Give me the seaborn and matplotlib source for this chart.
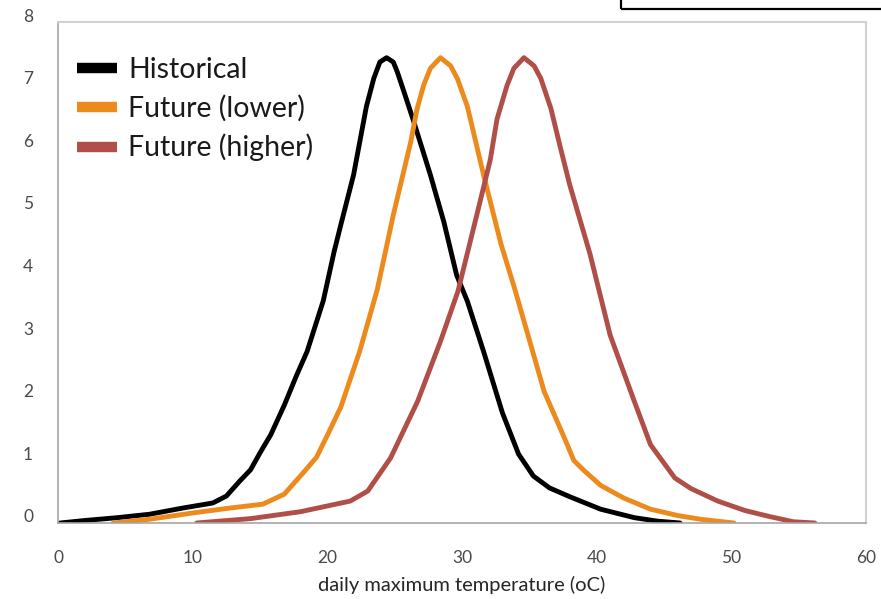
import matplotlib
matplotlib.use("Agg")
import matplotlib.pyplot as plt
import matplotlib.transforms as mtransforms
from matplotlib.lines import Line2D
from matplotlib.patches import Rectangle
import pandas as pd
import seaborn as sns

# Daily maximum temperature distributions (oC vs. frequency)
hist_x = [0.15, 2.0, 4.4, 6.8, 9.3, 11.5, 12.5, 13.5, 14.3, 15.0, 15.8, 16.8, 17.7,
          18.5, 19.7, 20.5, 21.0, 21.95, 22.9, 23.45, 23.9, 24.4, 24.9, 25.2, 25.7,
          26.4, 27.65, 28.65, 29.6, 30.4, 31.6, 33.0, 34.2, 35.3, 36.5, 38.0, 40.3,
          42.8, 44.5, 46.2]
hist_y = [0.0, 0.04, 0.085, 0.14, 0.24, 0.32, 0.43, 0.67, 0.85, 1.12, 1.41, 1.88, 2.35,
          2.74, 3.55, 4.33, 4.76, 5.56, 6.65, 7.1, 7.36, 7.43, 7.36, 7.2, 6.88,
          6.42, 5.56, 4.81, 3.96, 3.54, 2.74, 1.76, 1.1, 0.75, 0.56, 0.42, 0.22,
          0.085, 0.03, 0.0]

low_x = [4.1, 6.8, 10.0, 12.8, 15.2, 16.8, 18.2, 19.2, 20.0, 21.0, 22.4, 23.7, 24.9,
         26.2, 26.65, 27.15, 27.65, 28.4, 29.15, 29.65, 30.4, 31.6, 32.9, 33.9, 34.7,
         36.1, 37.6, 38.3, 39.0, 40.3, 42.0, 44.0, 46.0, 47.7, 50.2]
low_y = [0.0, 0.06, 0.16, 0.24, 0.30, 0.46, 0.8, 1.05, 1.4, 1.85, 2.74, 3.72, 4.92,
         6.09, 6.6, 6.99, 7.26, 7.43, 7.3, 7.1, 6.65, 5.56, 4.45, 3.75, 3.15,
         2.1, 1.36, 1.0, 0.85, 0.6, 0.4, 0.22, 0.12, 0.06, 0.0]

high_x = [10.3, 14.3, 18.0, 21.7, 23.0, 24.7, 26.7, 28.4, 29.7, 31.1, 32.1, 32.6, 33.35,
          33.85, 34.6, 35.35, 35.85, 36.6, 37.3, 38.0, 39.5, 41.0, 42.8, 44.0, 45.8,
          47.0, 49.0, 51.0, 52.7, 54.6, 56.2]
high_y = [0.0, 0.07, 0.18, 0.35, 0.51, 1.04, 1.94, 2.9, 3.7, 4.92, 5.8, 6.45, 6.99,
          7.26, 7.43, 7.3, 7.1, 6.62, 6.0, 5.4, 4.3, 3.0, 1.94, 1.25, 0.72,
          0.55, 0.35, 0.2, 0.11, 0.02, 0.0]

series_names = ["Historical", "Future (lower)", "Future (higher)"]
series_colors = ["#000000", "#EC8A1E", "#B04E48"]

x_ticks = [0, 10, 20, 30, 40, 50, 60]
y_ticks = [0, 1, 2, 3, 4, 5, 6, 7, 8]
x_label = "daily maximum temperature (oC)"

frames = []
for name, xs, ys in zip(series_names, [hist_x, low_x, high_x], [hist_y, low_y, high_y]):
    frames.append(pd.DataFrame({"temp": xs, "freq": ys, "series": name}))
df = pd.concat(frames, ignore_index=True)

sns.set_style("white")
plt.rcParams["font.family"] = ["Lato", "DejaVu Sans"]

fig = plt.figure(figsize=(8.81, 5.99), dpi=100)
ax = fig.add_axes([58 / 881, 1 - 523 / 599, (866 - 58) / 881, (523 - 22) / 599])

sns.lineplot(data=df, x="temp", y="freq", hue="series", hue_order=series_names,
             palette=series_colors, sort=False, estimator=None, linewidth=3.5,
             legend=False, ax=ax, solid_capstyle="round", solid_joinstyle="round")

ax.set_xlim(0, 60)
ax.set_ylim(0, 8)
ax.set_xticks(x_ticks)
ax.set_yticks(y_ticks)
ax.set_xlabel(x_label, fontsize=14.5, color="#262626", labelpad=7)
ax.set_ylabel("")
ax.tick_params(axis="both", which="major", direction="out", length=7, width=1,
               color="#A6A6A6", labelsize=12.5, labelcolor="#4a4a4a")
ax.tick_params(axis="x", pad=12.5)
ax.tick_params(axis="y", pad=11)

# y labels sit a little above their tick marks
lift = mtransforms.ScaledTranslation(0, 0.07, fig.dpi_scale_trans)
for lbl in ax.get_yticklabels():
    lbl.set_transform(lbl.get_transform() + lift)

for side in ["left", "bottom"]:
    ax.spines[side].set_color("#A6A6A6")
    ax.spines[side].set_linewidth(1.2)
for side in ["top", "right"]:
    ax.spines[side].set_color("#D0D0D0")
    ax.spines[side].set_linewidth(1.5)

handles = [Line2D([0], [0], color=c, linewidth=7.5, solid_capstyle="butt")
           for c in series_colors]
ax.legend(handles, series_names, loc="upper left", bbox_to_anchor=(0.0235, 0.93),
          borderaxespad=0, borderpad=0, frameon=False, fontsize=20.5,
          handlelength=1.4, handletextpad=0.4, labelspacing=0.42,
          labelcolor="#1a1a1a")

# Text box edge peeking in at the top right
fig.patches.append(Rectangle((621 / 881, 1 - 9 / 599), 0.5, 0.2, transform=fig.transFigure,
                             fill=False, edgecolor="#000000", linewidth=1.6))

fig.savefig("out.png", dpi=100, facecolor="white")
